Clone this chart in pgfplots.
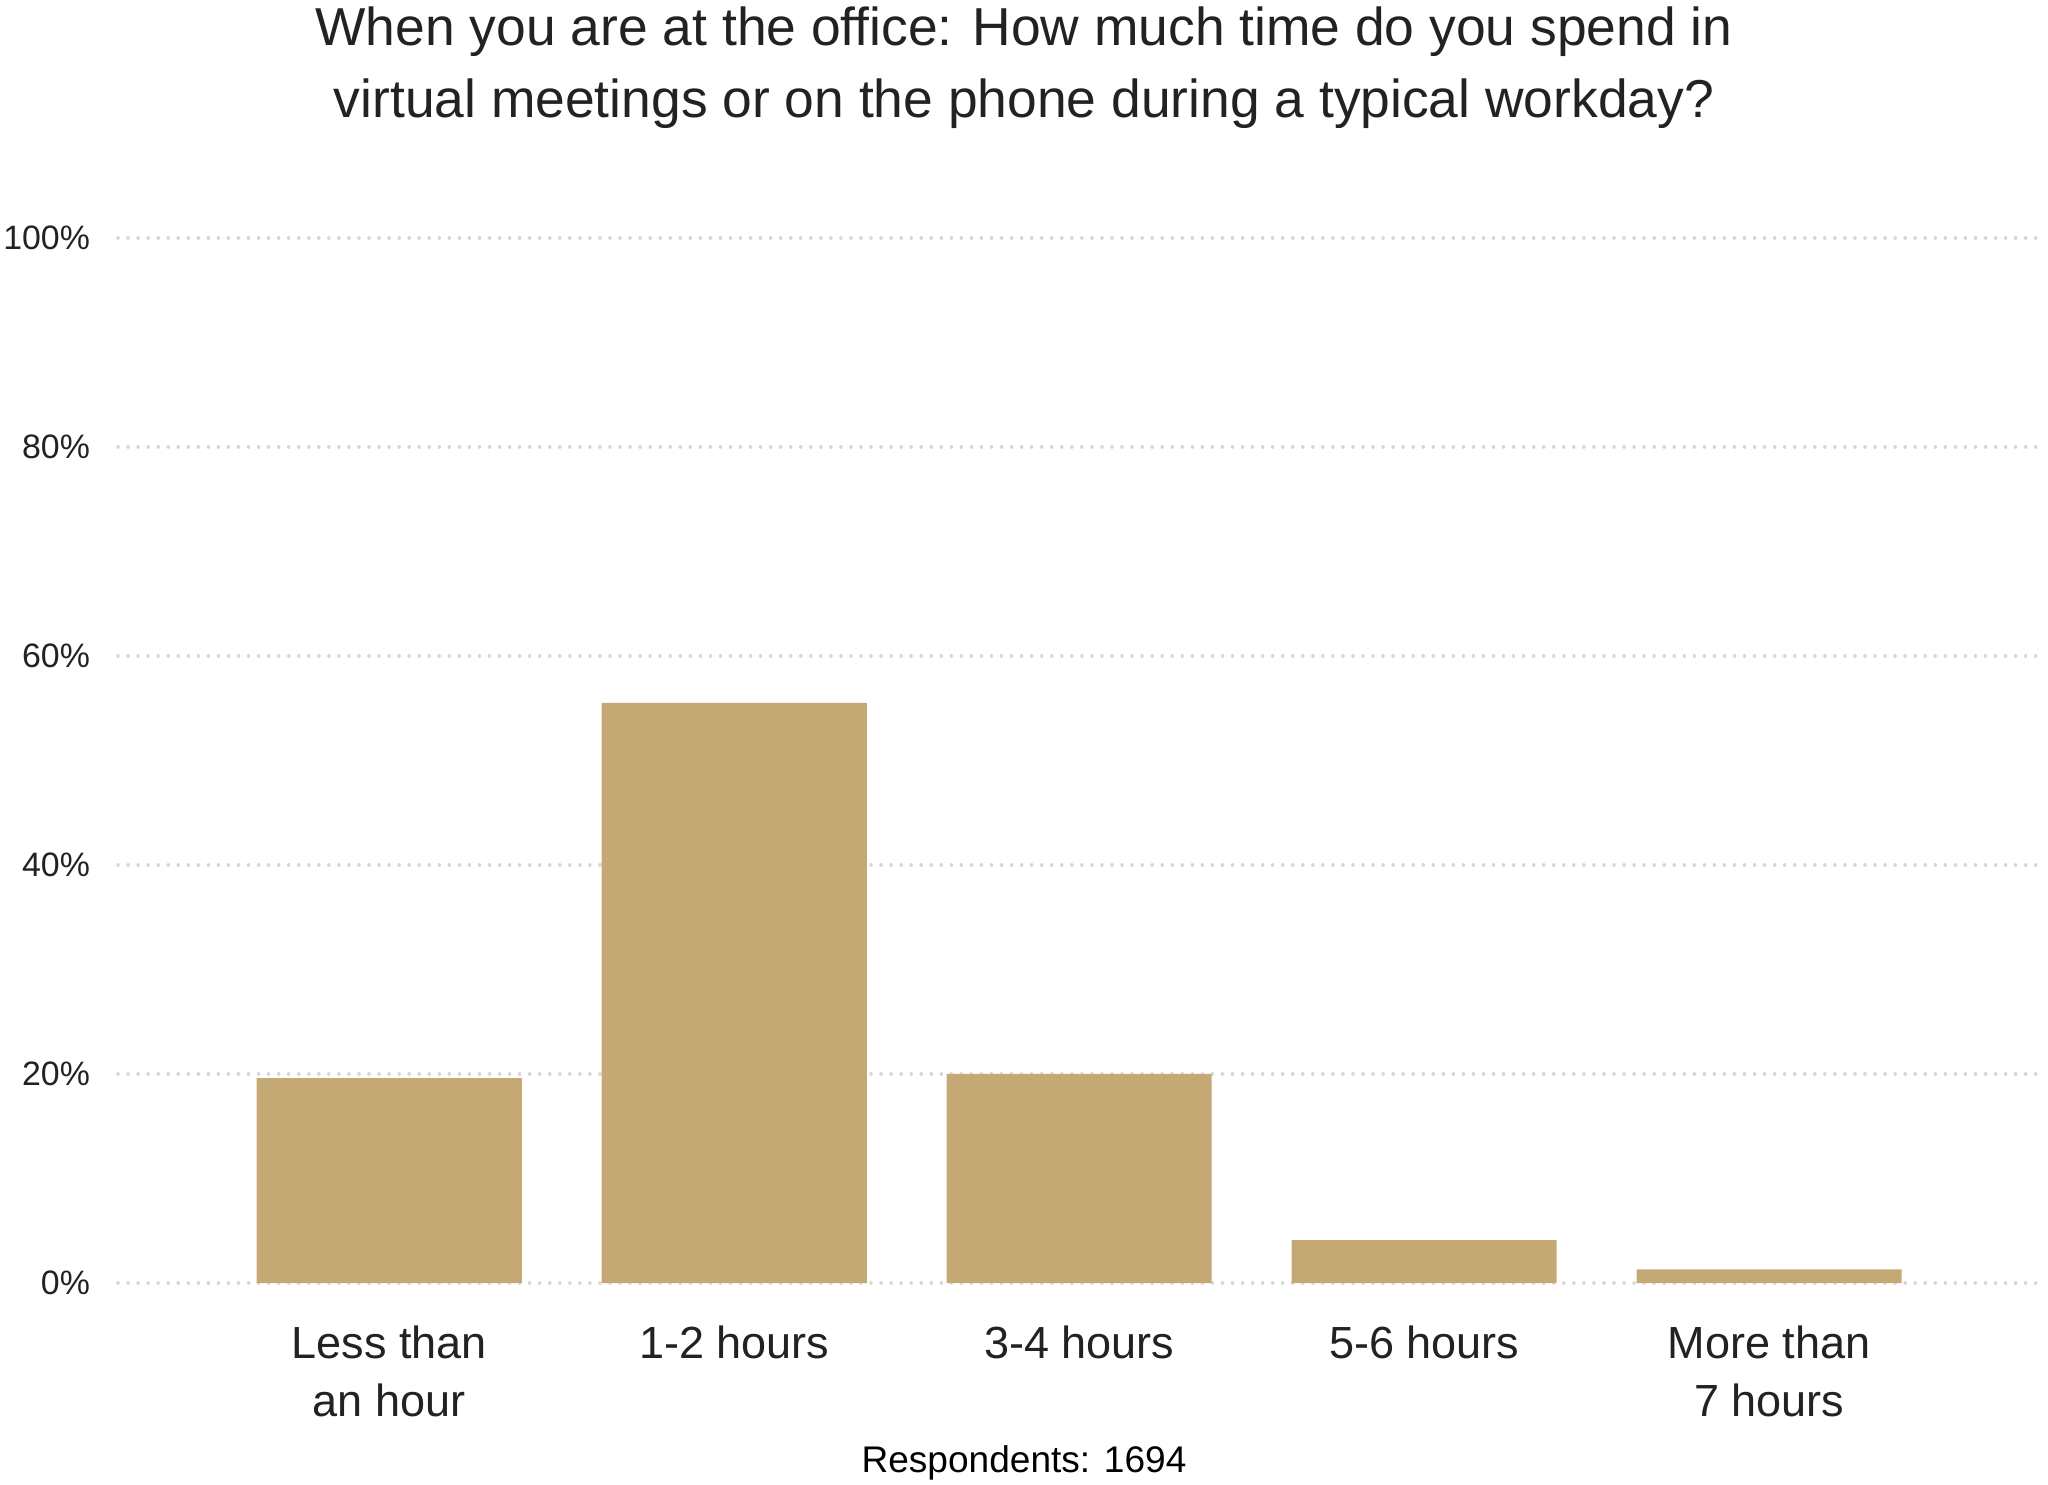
\documentclass[border=0pt]{standalone}
\usepackage{fontspec}
\setmainfont{Liberation Sans}
\usepackage{pgfplots}
\pgfplotsset{compat=1.18}
\definecolor{barc}{HTML}{C5A975}
\definecolor{txt}{HTML}{222222}
\definecolor{gridc}{HTML}{D8D8D0}
\begin{document}
\begin{tikzpicture}[x=1bp,y=1bp]
\useasboundingbox (0,0) rectangle (512,371);
\begin{axis}[
  at={(29.5bp,50.25bp)}, anchor=south west, scale only axis,
  width=481.5bp, height=261.3bp,
  xmin=-0.786, xmax=4.797, ymin=0, ymax=100,
  axis line style={draw=none},
  major tick length=0pt,
  ymajorgrids,
  grid style={gridc, line width=0.9bp, dash pattern=on 0.01bp off 2.5bp, line cap=round},
  ytick={0,20,40,60,80,100},
  yticklabels={0\%,20\%,40\%,60\%,80\%,100\%},
  yticklabel style={font=\fontsize{8.5}{10}\selectfont, text=txt, anchor=east, xshift=-3.5bp},
  xtick={0,1,2,3,4},
  xticklabels={Less than\\an hour,1-2 hours,3-4 hours,5-6 hours,More than\\7 hours},
  xticklabel style={font=\fontsize{11.3}{14.5}\selectfont, text=txt, align=center, anchor=north, yshift=-7.2bp},
]
\addplot[ybar, bar width=66.3bp, fill=barc, draw=none] coordinates {(0,19.6) (1,55.5) (2,20.0) (3,4.1) (4,1.3)};
\end{axis}
\node[anchor=base, text=txt, font=\fontsize{13.4}{15}\selectfont, inner sep=0] at (256,359.6) {When you are at the office: How much time do you spend in};
\node[anchor=base, text=txt, font=\fontsize{13.4}{15}\selectfont, inner sep=0] at (256,341.6) {virtual meetings or on the phone during a typical workday?};
\node[anchor=base, text=black, font=\fontsize{9.3}{10}\selectfont, inner sep=0] at (256,2.9) {Respondents: 1694};
\end{tikzpicture}
\end{document}
